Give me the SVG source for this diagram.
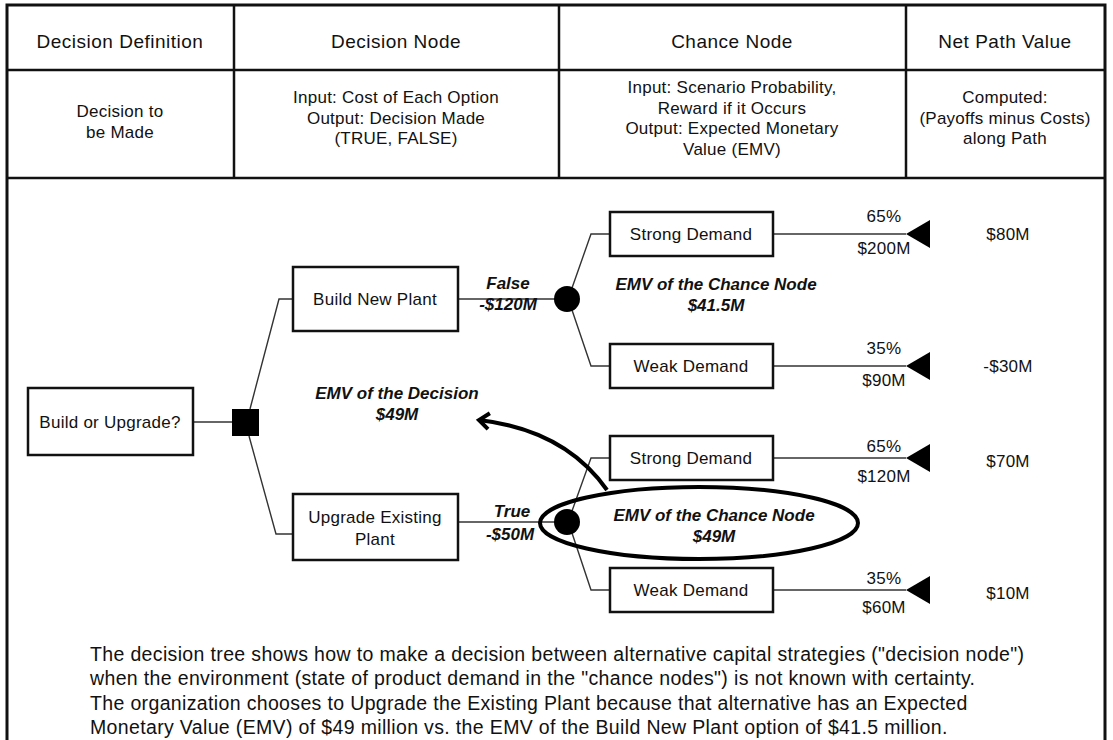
<svg xmlns="http://www.w3.org/2000/svg" width="1113" height="740" viewBox="0 0 1113 740">
<defs>
<style>
text{font-family:"Liberation Sans",Arial,sans-serif;fill:#111;text-anchor:middle}
.h{font-size:19px;letter-spacing:0.5px}
.s{font-size:17px;letter-spacing:0.25px}
.n{font-size:17px;letter-spacing:0.25px}
.b{font-size:17px;font-weight:bold;font-style:italic}
.p{font-size:19.5px;letter-spacing:0.35px;text-anchor:start}
.frame{fill:none;stroke:#111;stroke-width:3}
.grid{fill:none;stroke:#111;stroke-width:2.5}
.box{fill:#fff;stroke:#111;stroke-width:2.5}
.con{fill:none;stroke:#333;stroke-width:1.4}
.term{fill:#000}
</style>
<marker id="chev" viewBox="0 0 20 20" refX="15" refY="10" markerWidth="20" markerHeight="20" markerUnits="userSpaceOnUse" orient="auto">
<path d="M5 2 L15 10 L5 18" fill="none" stroke="#000" stroke-width="4" stroke-linejoin="miter"/>
</marker>
</defs>
<rect width="1113" height="740" fill="#fff"/>
<g id="table">
<path class="frame" d="M7 740 V5 H1105 V740"/>
<path class="grid" d="M7 70 H1105 M7 178 H1105 M234 5 V178 M559 5 V178 M906 5 V178"/>
<text class="h" x="120" y="48">Decision Definition</text>
<text class="h" x="396" y="48">Decision Node</text>
<text class="h" x="732" y="48">Chance Node</text>
<text class="h" x="1005" y="48">Net Path Value</text>
<text class="s" x="120" y="117">Decision to</text>
<text class="s" x="120" y="138">be Made</text>
<text class="s" x="396" y="103">Input: Cost of Each Option</text>
<text class="s" x="396" y="124">Output: Decision Made</text>
<text class="s" x="396" y="144">(TRUE, FALSE)</text>
<text class="s" x="732" y="93">Input: Scenario Probability,</text>
<text class="s" x="732" y="114">Reward if it Occurs</text>
<text class="s" x="732" y="134">Output: Expected Monetary</text>
<text class="s" x="732" y="155">Value (EMV)</text>
<text class="s" x="1005" y="103">Computed:</text>
<text class="s" x="1005" y="124">(Payoffs minus Costs)</text>
<text class="s" x="1005" y="144">along Path</text>
</g>
<g id="connectors">
<path class="con" d="M193 422 H233"/>
<path class="con" d="M250 409 L279 299 H293"/>
<path class="con" d="M249 436 L276 534 H293"/>
<path class="con" d="M458 299 H560"/>
<path class="con" d="M458 522 H560"/>
<path class="con" d="M572 288 L591 234 H610"/>
<path class="con" d="M572 310 L591 366 H610"/>
<path class="con" d="M572 511 L591 458 H610"/>
<path class="con" d="M572 533 L591 590 H610"/>
<path class="con" d="M773 234 H906"/>
<path class="con" d="M773 366 H906"/>
<path class="con" d="M773 458 H906"/>
<path class="con" d="M773 590 H906"/>
<path d="M607 490 Q565 430 479 420" fill="none" stroke="#000" stroke-width="4" marker-end="url(#chev)"/>
</g>
<g id="decision-root">
<rect class="box" x="28" y="388" width="165" height="67"/>
<text class="n" x="110" y="428">Build or Upgrade?</text>
</g>
<g id="decision-node">
<rect x="232" y="409" width="27" height="27" fill="#000"/>
</g>
<g id="build-new-plant">
<rect class="box" x="293" y="267" width="165" height="64"/>
<text class="n" x="375" y="305">Build New Plant</text>
<text class="b" x="508" y="289">False</text>
<text class="b" x="508" y="310">-$120M</text>
</g>
<g id="upgrade-plant">
<rect class="box" x="293" y="494" width="165" height="66"/>
<text class="n" x="375" y="523">Upgrade Existing</text>
<text class="n" x="375" y="545">Plant</text>
<text class="b" x="512" y="517">True</text>
<text class="b" x="510" y="540">-$50M</text>
</g>
<g id="chance-build">
<circle cx="567" cy="299" r="13" fill="#000"/>
<text class="b" x="716" y="290">EMV of the Chance Node</text>
<text class="b" x="716" y="311">$41.5M</text>
</g>
<g id="chance-upgrade">
<ellipse cx="699" cy="523" rx="159" ry="36" fill="none" stroke="#000" stroke-width="4"/>
<circle cx="567" cy="522" r="13" fill="#000"/>
<text class="b" x="714" y="521">EMV of the Chance Node</text>
<text class="b" x="714" y="542">$49M</text>
</g>
<g id="emv-decision">
<text class="b" x="397" y="399">EMV of the Decision</text>
<text class="b" x="397" y="420">$49M</text>
</g>
<g id="build-strong">
<rect class="box" x="610" y="212" width="163" height="44"/>
<text class="n" x="691" y="240">Strong Demand</text>
<polygon class="term" points="906,234 930,220 930,248"/>
<text class="n" x="884" y="222">65%</text>
<text class="n" x="884" y="254">$200M</text>
<text class="n" x="1008" y="240">$80M</text>
</g>
<g id="build-weak">
<rect class="box" x="610" y="344" width="163" height="44"/>
<text class="n" x="691" y="372">Weak Demand</text>
<polygon class="term" points="906,366 930,352 930,380"/>
<text class="n" x="884" y="354">35%</text>
<text class="n" x="884" y="386">$90M</text>
<text class="n" x="1008" y="372">-$30M</text>
</g>
<g id="upgrade-strong">
<rect class="box" x="610" y="436" width="163" height="44"/>
<text class="n" x="691" y="464">Strong Demand</text>
<polygon class="term" points="906,458 930,444 930,472"/>
<text class="n" x="884" y="452">65%</text>
<text class="n" x="884" y="482">$120M</text>
<text class="n" x="1008" y="467">$70M</text>
</g>
<g id="upgrade-weak">
<rect class="box" x="610" y="568" width="163" height="44"/>
<text class="n" x="691" y="596">Weak Demand</text>
<polygon class="term" points="906,590 930,576 930,604"/>
<text class="n" x="884" y="584">35%</text>
<text class="n" x="884" y="613">$60M</text>
<text class="n" x="1008" y="599">$10M</text>
</g>
<g id="caption">
<text class="p" x="90" y="661">The decision tree shows how to make a decision between alternative capital strategies ("decision node")</text>
<text class="p" x="90" y="685">when the environment (state of product demand in the "chance nodes") is not known with certainty.</text>
<text class="p" x="90" y="710">The organization chooses to Upgrade the Existing Plant because that alternative has an Expected</text>
<text class="p" x="90" y="734">Monetary Value (EMV) of $49 million vs. the EMV of the Build New Plant option of $41.5 million.</text>
</g>
</svg>
